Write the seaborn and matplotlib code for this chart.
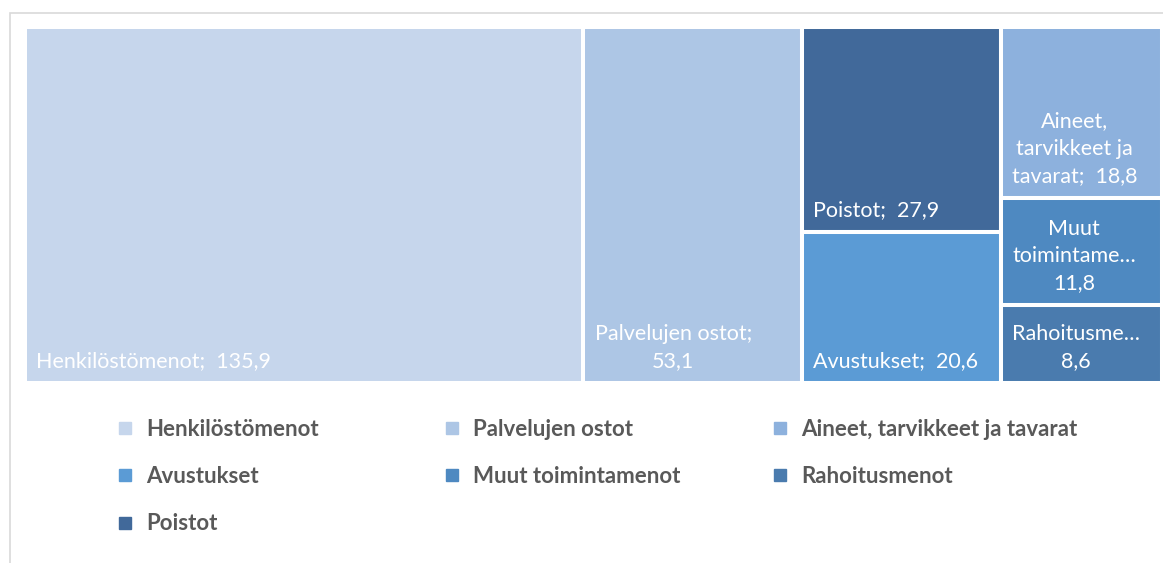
import matplotlib
matplotlib.use('Agg')
import matplotlib.pyplot as plt
from matplotlib.lines import Line2D
from matplotlib.patches import Rectangle
import seaborn as sns

# --- data ---
categories = ['Henkilöstömenot', 'Palvelujen ostot', 'Poistot', 'Avustukset',
              'Aineet, tarvikkeet ja tavarat', 'Muut toimintamenot', 'Rahoitusmenot']
values = [135.9, 53.1, 27.9, 20.6, 18.8, 11.8, 8.6]
box_labels = ['Henkilöstömenot;  135,9', 'Palvelujen ostot;\n53,1', 'Poistot;  27,9',
              'Avustukset;  20,6', 'Aineet,\ntarvikkeet ja\ntavarat;  18,8',
              'Muut\ntoimintame…\n11,8', 'Rahoitusme…\n8,6']
column_of = [0, 1, 2, 2, 3, 3, 3]
colors = ['#C6D6EC', '#ADC6E5', '#41699A', '#5B9BD5', '#8DB1DD', '#4E89C1', '#4A7BAE']
legend_columns = [['Henkilöstömenot', 'Avustukset', 'Poistot'],
                  ['Palvelujen ostot', 'Muut toimintamenot'],
                  ['Aineet, tarvikkeet ja tavarat', 'Rahoitusmenot']]

sns.set_theme(style='white')
plt.rcParams['font.family'] = ['Lato', 'DejaVu Sans']

fig = plt.figure(figsize=(11.63, 5.63), dpi=100)
ax = fig.add_axes([25 / 1163, 180 / 563, 1137 / 1163, 356 / 563])

# column totals and x offsets
n_cols = max(column_of) + 1
col_tot = [sum(v for v, c in zip(values, column_of) if c == k) for k in range(n_cols)]
col_x = [sum(col_tot[:k]) for k in range(n_cols)]
col_used = [0.0] * n_cols

for i, (v, c) in enumerate(zip(values, column_of)):
    h = v / col_tot[c]
    bottom = 1 - col_used[c] - h
    col_used[c] += h
    ax.bar(col_x[c], h, width=col_tot[c], bottom=bottom, align='edge',
           color=colors[i], edgecolor='white', linewidth=2.9)
    ax.annotate(box_labels[i], xy=(col_x[c], bottom), xytext=(8, 8.5),
                textcoords='offset points', ha='left', va='bottom',
                multialignment='center', linespacing=1.45,
                color='white', fontsize=15.5)

ax.set_xlim(0, sum(values))
ax.set_ylim(0, 1)
ax.axis('off')

# legend, one block per column
color_of = dict(zip(categories, colors))
legend_x = [115 / 1163, 442 / 1163, 770 / 1163]
for names, lx in zip(legend_columns, legend_x):
    handles = [Line2D([], [], marker='s', linestyle='', markersize=9,
                      color=color_of[n], label=n) for n in names]
    fig.legend(handles=handles, loc='upper left', bbox_to_anchor=(lx, 1 - 419 / 563),
               frameon=False, labelspacing=1.18, handlelength=0.9, handletextpad=0.5,
               prop={'weight': 'bold', 'size': 16}, labelcolor='#595959',
               borderaxespad=0, borderpad=0)

# outer chart frame
fig.patches.append(Rectangle((9.5 / 1163, -0.05), 1.1, (563 - 12.5) / 563 + 0.05,
                             transform=fig.transFigure, fill=False,
                             edgecolor='#D9D9D9', linewidth=1.2))

fig.savefig('out.png', dpi=100)
